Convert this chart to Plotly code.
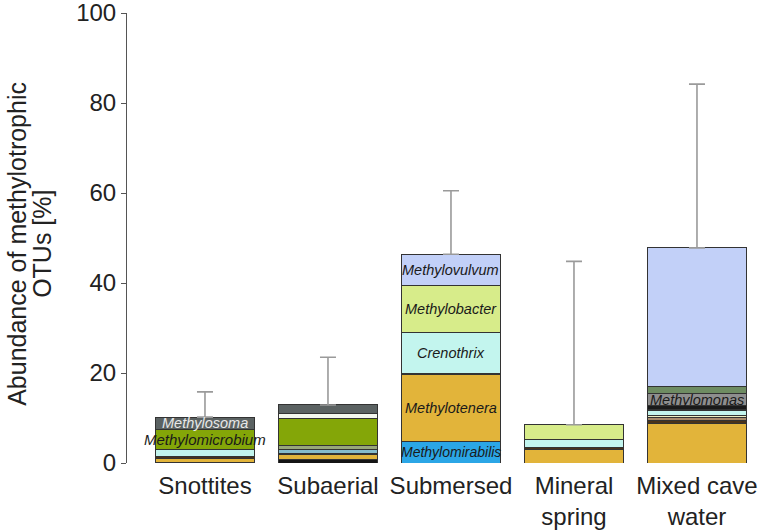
import numpy as np
import plotly.graph_objects as go

categories = ["Snottites", "Subaerial", "Submersed", "Mineral<br>spring", "Mixed cave<br>water"]

# stacked layers, bottom to top (values in % per category)
taxa = [
    "Other (black)", "Methylomirabilis", "Methylotenera", "Other (dark brown)", "Other (tan)",
    "Other (pale yellow)", "Crenothrix", "Other (teal)", "Other (grey-green)", "Methylobacter",
    "Methylomicrobium", "Other (white)", "Other (black 2)", "Methylomonas", "Methylosoma",
    "Other (sage)", "Methylovulvum",
]
other_black      = [0.2, 0.8, 0.0, 0.0, 0.0]
methylomirabilis = [0.0, 0.0, 4.7, 0.0, 0.0]
methylotenera    = [0.9, 1.2, 14.9, 3.0, 8.7]
other_darkbrown  = [0.3, 0.2, 0.4, 0.4, 0.8]
other_tan        = [0.0, 0.0, 0.0, 0.0, 0.7]
other_paleyellow = [0.0, 0.0, 0.0, 0.0, 0.4]
crenothrix       = [1.5, 0.0, 8.9, 1.8, 1.0]
other_teal       = [0.0, 0.8, 0.0, 0.0, 0.0]
other_greygreen  = [0.0, 1.0, 0.0, 0.0, 0.0]
methylobacter    = [0.0, 0.0, 10.6, 3.3, 0.0]
methylomicrobium = [4.6, 6.0, 0.0, 0.0, 0.0]
other_white      = [0.0, 1.1, 0.0, 0.0, 0.4]
other_black2     = [0.0, 0.0, 0.0, 0.0, 0.7]
methylomonas     = [0.0, 0.0, 0.0, 0.0, 2.8]
methylosoma      = [2.7, 1.8, 0.0, 0.0, 0.0]
other_sage       = [0.0, 0.0, 0.0, 0.0, 1.6]
methylovulvum    = [0.0, 0.0, 6.9, 0.0, 30.7]

error_top = [15.8, 23.5, 60.5, 44.8, 84.2]

series = [other_black, methylomirabilis, methylotenera, other_darkbrown, other_tan,
          other_paleyellow, crenothrix, other_teal, other_greygreen, methylobacter,
          methylomicrobium, other_white, other_black2, methylomonas, methylosoma,
          other_sage, methylovulvum]
colors = ["#141414", "#2ba6e6", "#e2b43a", "#4a3319", "#a88c6c",
          "#eef0c2", "#c3f5ee", "#86bccb", "#98a77a", "#d7ec8a",
          "#84a608", "#f4f7ee", "#1a1a1a", "#8e8e8e", "#5b6262",
          "#6e8c62", "#c2d0f8"]

FONT = "Liberation Sans, Arial, sans-serif"

fig = go.Figure()
for name, vals, col in zip(taxa, series, colors):
    fig.add_trace(go.Bar(
        x=categories, y=vals, name=name, width=0.81,
        marker=dict(color=col, line=dict(color="#333333", width=1)),
        showlegend=False,
    ))

arr = np.array(series)
totals = arr.sum(axis=0)
cum = np.cumsum(arr, axis=0)

fig.add_trace(go.Scatter(
    x=categories, y=totals, mode="markers",
    marker=dict(size=1, color="rgba(0,0,0,0)"),
    error_y=dict(type="data", symmetric=False,
                 array=list(np.array(error_top) - totals), arrayminus=[0] * 5,
                 color="#9a9a9a", thickness=1.6, width=8),
    showlegend=False, hoverinfo="skip",
))

# labels inside bars: (category index, taxon, colour, size)
labels = [
    (0, "Methylosoma", "#e8e8e8", 14.5),
    (0, "Methylomicrobium", "#1a1a1a", 15),
    (2, "Methylovulvum", "#1a1a1a", 14.5),
    (2, "Methylobacter", "#1a1a1a", 14.5),
    (2, "Crenothrix", "#1a1a1a", 14.5),
    (2, "Methylotenera", "#1a1a1a", 14.5),
    (2, "Methylomirabilis", "#1a1a1a", 14),
    (4, "Methylomonas", "#1a1a1a", 14.5),
]
for ci, tname, tc, fs in labels:
    ti = taxa.index(tname)
    mid = cum[ti, ci] - arr[ti, ci] / 2
    fig.add_annotation(x=categories[ci], y=mid, text="<i>" + tname + "</i>",
                       showarrow=False, font=dict(color=tc, size=fs, family=FONT))

# plot area at x 127-757, y 13-463
L, W = 127, 630
for txt, px in [("Abundance of methylotrophic", 17), ("OTUs [%]", 42)]:
    fig.add_annotation(x=(px - L) / W, y=0.487, xref="paper", yref="paper",
                       text=txt, textangle=-90, showarrow=False,
                       xanchor="center", yanchor="middle",
                       font=dict(size=25, family=FONT, color="#222222"))

fig.update_layout(
    barmode="stack", width=760, height=532,
    margin=dict(l=L, r=3, t=13, b=69),
    plot_bgcolor="white", paper_bgcolor="white",
    font=dict(family=FONT, size=24, color="#222222"),
)
fig.update_xaxes(range=[-0.634, 4.488], showline=False, ticks="", showgrid=False,
                 automargin=False, ticklabelstandoff=6, tickfont=dict(size=24))
fig.update_yaxes(range=[0, 100], tickvals=[0, 20, 40, 60, 80, 100], showgrid=False,
                 zeroline=False, showline=True, linecolor="#555555", linewidth=1,
                 ticks="outside", ticklen=5, tickcolor="#555555", automargin=False,
                 ticklabeloverflow="allow", tickfont=dict(size=24))

fig.write_html("out.html", config={"displayModeBar": False},
               post_script="document.body.style.margin='0';")
